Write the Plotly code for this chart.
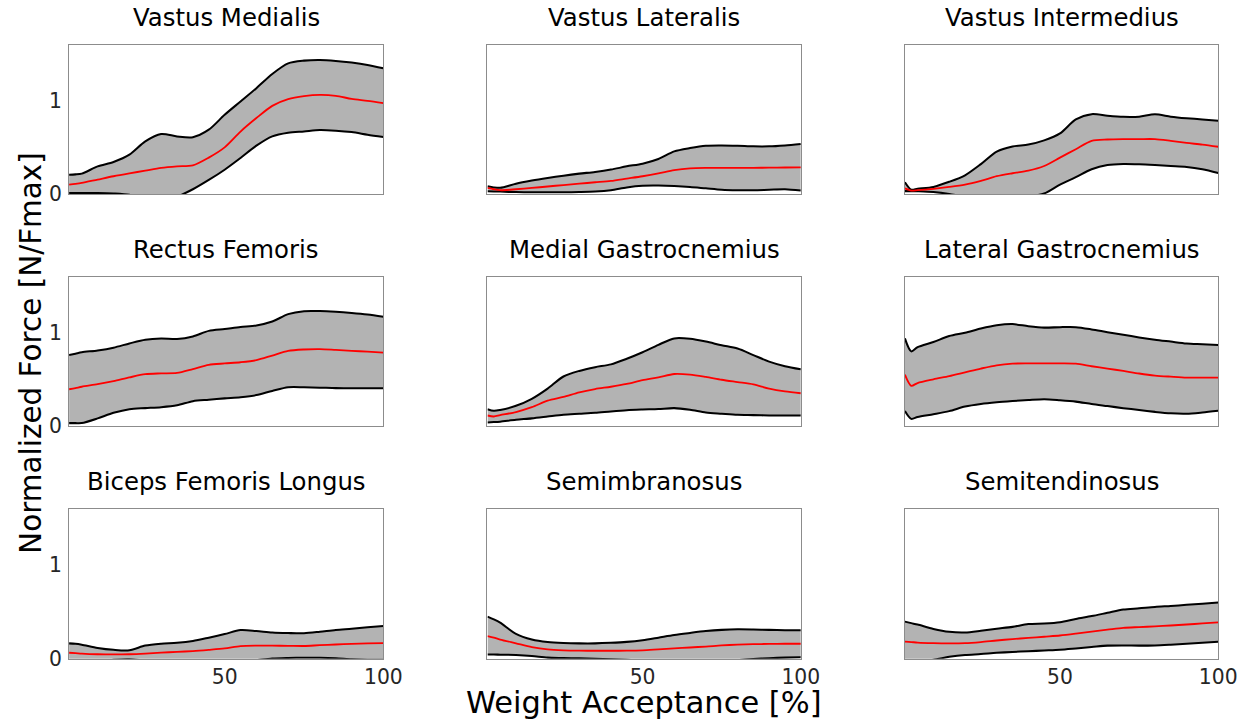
import plotly.graph_objects as go

# Weight acceptance phase (% of phase) at which each curve is sampled
pct = [1, 3, 5, 10, 15, 20, 25, 30, 35, 40, 45, 50, 55, 60, 65, 70, 75, 80, 85, 90, 95, 100]

muscles = [
    "Vastus Medialis", "Vastus Lateralis", "Vastus Intermedius",
    "Rectus Femoris", "Medial Gastrocnemius", "Lateral Gastrocnemius",
    "Biceps Femoris Longus", "Semimbranosus", "Semitendinosus",
]

# Normalized force: mean and the upper / lower band around it
vm_upper = [0.207, 0.21, 0.218, 0.296, 0.343, 0.421, 0.564, 0.643, 0.618, 0.61, 0.69, 0.85, 0.993, 1.136, 1.289, 1.403, 1.432, 1.439, 1.429, 1.411, 1.386, 1.35]
vm_mean = [0.1, 0.108, 0.118, 0.154, 0.19, 0.221, 0.25, 0.279, 0.296, 0.307, 0.39, 0.5, 0.67, 0.815, 0.946, 1.018, 1.05, 1.064, 1.054, 1.021, 1.0, 0.975]
vm_lower = [0.01, 0.01, 0.01, 0.01, 0.005, -0.01, -0.06, -0.08, -0.03, 0.05, 0.15, 0.26, 0.386, 0.518, 0.618, 0.657, 0.671, 0.686, 0.679, 0.664, 0.636, 0.611]

vl_upper = [0.082, 0.07, 0.066, 0.11, 0.143, 0.171, 0.196, 0.218, 0.236, 0.261, 0.296, 0.325, 0.375, 0.457, 0.493, 0.518, 0.521, 0.518, 0.511, 0.511, 0.521, 0.536]
vl_mean = [0.064, 0.05, 0.04, 0.05, 0.064, 0.08, 0.095, 0.11, 0.125, 0.14, 0.165, 0.19, 0.22, 0.255, 0.275, 0.28, 0.28, 0.28, 0.28, 0.282, 0.284, 0.286]
vl_lower = [0.029, 0.027, 0.025, 0.02, 0.018, 0.018, 0.018, 0.02, 0.025, 0.04, 0.07, 0.088, 0.09, 0.085, 0.075, 0.06, 0.045, 0.04, 0.04, 0.045, 0.05, 0.036]

vi_upper = [0.125, 0.045, 0.055, 0.075, 0.13, 0.2, 0.32, 0.455, 0.51, 0.53, 0.575, 0.65, 0.8, 0.857, 0.84, 0.828, 0.83, 0.855, 0.83, 0.813, 0.8, 0.786]
vi_mean = [0.06, 0.036, 0.04, 0.055, 0.075, 0.1, 0.14, 0.19, 0.222, 0.25, 0.3, 0.39, 0.48, 0.57, 0.585, 0.589, 0.589, 0.589, 0.57, 0.548, 0.53, 0.507]
vi_lower = [0.03, 0.03, 0.028, 0.02, 0.0, -0.03, -0.05, -0.06, -0.05, -0.03, 0.005, 0.1, 0.18, 0.265, 0.31, 0.321, 0.318, 0.31, 0.3, 0.29, 0.265, 0.225]

rf_upper = [0.761, 0.775, 0.79, 0.81, 0.84, 0.885, 0.925, 0.938, 0.932, 0.96, 1.02, 1.04, 1.062, 1.078, 1.12, 1.2, 1.232, 1.233, 1.225, 1.212, 1.195, 1.171]
rf_mean = [0.393, 0.405, 0.42, 0.447, 0.48, 0.52, 0.555, 0.563, 0.568, 0.61, 0.655, 0.67, 0.683, 0.705, 0.755, 0.805, 0.82, 0.824, 0.815, 0.805, 0.797, 0.786]
rf_lower = [0.029, 0.029, 0.03, 0.08, 0.14, 0.179, 0.19, 0.2, 0.22, 0.265, 0.28, 0.295, 0.308, 0.33, 0.375, 0.414, 0.414, 0.41, 0.405, 0.404, 0.404, 0.404]

mg_upper = [0.179, 0.161, 0.17, 0.215, 0.29, 0.4, 0.53, 0.59, 0.63, 0.66, 0.72, 0.79, 0.87, 0.939, 0.935, 0.905, 0.865, 0.83, 0.76, 0.69, 0.64, 0.607]
mg_mean = [0.111, 0.1, 0.115, 0.148, 0.2, 0.27, 0.31, 0.36, 0.395, 0.42, 0.45, 0.49, 0.52, 0.557, 0.55, 0.525, 0.495, 0.47, 0.445, 0.4, 0.37, 0.35]
mg_lower = [0.036, 0.04, 0.045, 0.065, 0.08, 0.1, 0.12, 0.13, 0.14, 0.155, 0.168, 0.175, 0.18, 0.19, 0.172, 0.143, 0.13, 0.118, 0.115, 0.111, 0.111, 0.111]

lg_upper = [0.939, 0.8, 0.845, 0.9, 0.965, 1.0, 1.045, 1.08, 1.093, 1.07, 1.055, 1.06, 1.06, 1.036, 1.006, 0.978, 0.95, 0.925, 0.905, 0.885, 0.877, 0.868]
lg_mean = [0.55, 0.43, 0.46, 0.5, 0.535, 0.575, 0.615, 0.65, 0.668, 0.671, 0.671, 0.671, 0.668, 0.64, 0.615, 0.59, 0.562, 0.54, 0.528, 0.518, 0.518, 0.518]
lg_lower = [0.16, 0.075, 0.095, 0.125, 0.158, 0.207, 0.235, 0.253, 0.266, 0.277, 0.286, 0.275, 0.26, 0.234, 0.212, 0.19, 0.17, 0.15, 0.134, 0.13, 0.143, 0.161]

bfl_upper = [0.164, 0.16, 0.15, 0.115, 0.095, 0.09, 0.14, 0.16, 0.17, 0.19, 0.225, 0.263, 0.306, 0.296, 0.28, 0.274, 0.272, 0.288, 0.307, 0.32, 0.335, 0.349]
bfl_mean = [0.064, 0.06, 0.055, 0.048, 0.046, 0.048, 0.055, 0.065, 0.073, 0.082, 0.095, 0.11, 0.135, 0.14, 0.139, 0.138, 0.136, 0.145, 0.152, 0.158, 0.163, 0.167]
bfl_lower = [-0.03, -0.035, -0.04, -0.025, -0.01, -0.005, -0.02, -0.03, -0.025, -0.02, -0.03, -0.04, -0.03, -0.015, 0.002, 0.008, 0.011, 0.01, 0.005, -0.005, -0.01, -0.01]

sm_upper = [0.449, 0.42, 0.385, 0.265, 0.205, 0.178, 0.168, 0.164, 0.164, 0.17, 0.18, 0.198, 0.225, 0.253, 0.275, 0.295, 0.308, 0.314, 0.312, 0.308, 0.305, 0.303]
sm_mean = [0.242, 0.225, 0.205, 0.165, 0.125, 0.1, 0.09, 0.086, 0.085, 0.085, 0.086, 0.09, 0.1, 0.11, 0.12, 0.13, 0.142, 0.15, 0.155, 0.158, 0.16, 0.16]
sm_lower = [0.046, 0.045, 0.043, 0.04, 0.03, 0.012, 0.008, 0.004, 0.0, -0.005, -0.012, -0.018, -0.025, -0.03, -0.033, -0.035, -0.03, -0.015, -0.003, 0.006, 0.012, 0.015]

st_upper = [0.396, 0.38, 0.365, 0.318, 0.287, 0.28, 0.298, 0.32, 0.34, 0.37, 0.376, 0.39, 0.425, 0.455, 0.49, 0.525, 0.538, 0.553, 0.563, 0.575, 0.587, 0.599]
st_mean = [0.182, 0.178, 0.172, 0.166, 0.164, 0.166, 0.178, 0.195, 0.21, 0.222, 0.235, 0.248, 0.268, 0.29, 0.31, 0.33, 0.338, 0.345, 0.355, 0.365, 0.377, 0.388]
st_lower = [-0.035, -0.03, -0.025, -0.01, 0.02, 0.04, 0.05, 0.063, 0.072, 0.08, 0.088, 0.096, 0.11, 0.125, 0.14, 0.142, 0.14, 0.142, 0.15, 0.16, 0.17, 0.182]

uppers = [vm_upper, vl_upper, vi_upper, rf_upper, mg_upper, lg_upper, bfl_upper, sm_upper, st_upper]
means = [vm_mean, vl_mean, vi_mean, rf_mean, mg_mean, lg_mean, bfl_mean, sm_mean, st_mean]
lowers = [vm_lower, vl_lower, vi_lower, rf_lower, mg_lower, lg_lower, bfl_lower, sm_lower, st_lower]

x_ticks = [50, 100]
y_ticks = [0, 1]

K = 1 / 0.984          # layout unit -> page pixel factor
W, H = 1247, 721       # layout units
FIG_W, FIG_H = 1266, 732
FONT = "DejaVu Sans, Arial, sans-serif"
BAND = "#b3b3b3"

# panel edges in layout units: columns (left, right), rows (top, bottom)
cols = [(69, 383), (487, 800), (904, 1217)]
rows = [(45, 194), (277, 426), (509, 659)]


def fx(v):
    return v * K / FIG_W


def fy(v):
    return 1 - v * K / FIG_H


fig = go.Figure()
annotations = []
layout_axes = {}

for i, name in enumerate(muscles):
    r, c = divmod(i, 3)
    n = i + 1
    xa = "x" if n == 1 else f"x{n}"
    ya = "y" if n == 1 else f"y{n}"
    spline = dict(shape="spline", smoothing=0.8)

    fig.add_trace(go.Scatter(
        x=pct, y=lowers[i], xaxis=xa, yaxis=ya, mode="lines",
        line=dict(color="black", width=2 * K, **spline), showlegend=False, hoverinfo="skip"))
    fig.add_trace(go.Scatter(
        x=pct, y=uppers[i], xaxis=xa, yaxis=ya, mode="lines", fill="tonexty",
        fillcolor=BAND, line=dict(color="black", width=2 * K, **spline),
        showlegend=False, hoverinfo="skip"))
    fig.add_trace(go.Scatter(
        x=pct, y=means[i], xaxis=xa, yaxis=ya, mode="lines",
        line=dict(color="#ff0000", width=1.8 * K, **spline), showlegend=False))

    x0, x1 = cols[c]
    yt, yb = rows[r]
    key = "" if n == 1 else str(n)
    layout_axes[f"xaxis{key}"] = dict(
        domain=[fx(x0), fx(x1)], range=[1, 100], anchor=ya, showgrid=False, zeroline=False,
        showline=True, mirror=True, linecolor="#8c8c8c", linewidth=1, ticks="", ticklen=0,
        tickvals=x_ticks, showticklabels=(r == 2),
        tickfont=dict(family=FONT, size=20 * K, color="#262626"), ticklabelstandoff=0)
    layout_axes[f"yaxis{key}"] = dict(
        domain=[fy(yb), fy(yt)], range=[0, 1.6], anchor=xa, showgrid=False, zeroline=False,
        showline=True, mirror=True, linecolor="#8c8c8c", linewidth=1, ticks="", ticklen=0,
        tickvals=y_ticks, showticklabels=(c == 0),
        tickfont=dict(family=FONT, size=20 * K, color="#262626"), ticklabelstandoff=2)

    annotations.append(dict(
        text=name, xref="paper", yref="paper", x=fx((x0 + x1) / 2), y=fy(yt - 27),
        xanchor="center", yanchor="middle", showarrow=False,
        font=dict(family=FONT, size=24 * K, color="black")))

annotations.append(dict(
    text="Weight Acceptance [%]", xref="paper", yref="paper", x=fx(643), y=fy(703),
    xanchor="center", yanchor="middle", showarrow=False,
    font=dict(family=FONT, size=30 * K, color="black")))
annotations.append(dict(
    text="Normalized Force [N/Fmax]", xref="paper", yref="paper", x=fx(31), y=fy(353),
    xanchor="center", yanchor="middle", showarrow=False, textangle=-90,
    font=dict(family=FONT, size=29 * K, color="black")))

fig.update_layout(
    width=FIG_W, height=FIG_H, margin=dict(l=0, r=0, t=0, b=0),
    paper_bgcolor="white", plot_bgcolor="white",
    annotations=annotations, showlegend=False, **layout_axes)

fig.write_html("out.html")
